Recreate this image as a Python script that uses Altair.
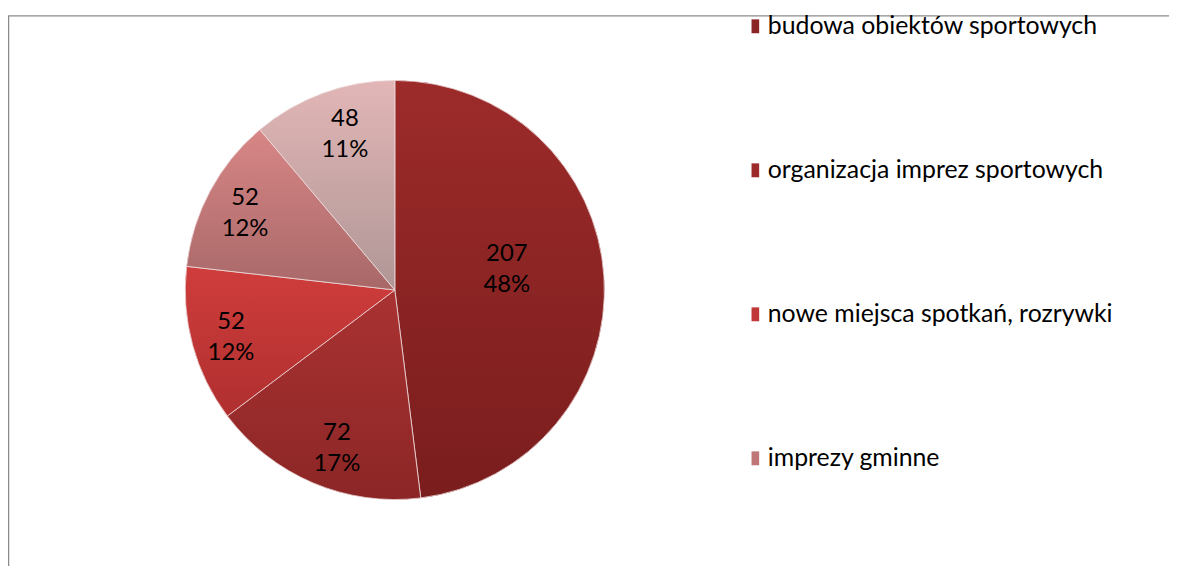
import altair as alt
import pandas as pd

categories = ["budowa obiektów sportowych", "organizacja imprez sportowych",
              "nowe miejsca spotkań, rozrywki", "imprezy gminne", "inne"]
values = [207, 72, 52, 52, 48]
legend_shown = categories[:4]

solid_colors = ["#8b2424", "#9c2a2a", "#c03838", "#c07676", "#cfa6a6"]
grad_top = ["#9c2b2a", "#aa3232", "#cf3d3c", "#d88686", "#e2b6b6"]
grad_bottom = ["#7a1d1d", "#8c2626", "#b02f2f", "#a86868", "#b09696"]

df = pd.DataFrame({"cat": categories, "value": values, "idx": list(range(len(values)))})

CX, CY, R = 389.5, 282, 211
W, H = 1169, 560


def grad(i):
    return {"gradient": "linear", "x1": 0, "y1": 0, "x2": 0, "y2": 1,
            "stops": [{"offset": 0, "color": grad_top[i]},
                      {"offset": 1, "color": grad_bottom[i]}]}


base = alt.Chart(df).transform_joinaggregate(total="sum(value)").transform_calculate(
    lab="[format(datum.value, 'd'), format(datum.value / datum.total, '.0%')]"
)

pie_legend = base.mark_arc(radius=R).encode(
    theta=alt.Theta("value:Q", stack=True),
    order=alt.Order("idx:Q"),
    x=alt.value(CX), y=alt.value(CY),
    color=alt.Color("cat:N", scale=alt.Scale(domain=categories, range=solid_colors),
                    legend=alt.Legend(
                        title=None, orient="none", legendX=740, legendY=4,
                        values=legend_shown, symbolType="M-0.55,-1H0.55V1H-0.55Z",
                        symbolSize=196, symbolStrokeWidth=0, labelFont="Lato",
                        labelFontSize=25, labelColor="#000000", labelOffset=0,
                        rowPadding=119, padding=0, labelLimit=500)),
)

conds = [{"test": f"datum.idx == {i}", "value": grad(i)} for i in range(len(values) - 1)]
pie_grad = base.mark_arc(radius=R, stroke="#f0dede", strokeWidth=0.8).encode(
    theta=alt.Theta("value:Q", stack=True),
    order=alt.Order("idx:Q"),
    x=alt.value(CX), y=alt.value(CY),
    fill=alt.FillValue(value=grad(len(values) - 1), condition=conds),
)

labels = base.mark_text(
    font="Lato", fontSize=24, color="#000000", lineHeight=31,
    align="center", baseline="middle",
    radius=alt.expr("datum.value > 150 ? 114 : 170"),
    dy=alt.expr("datum.value > 150 ? -29 : -12"),
    dx=alt.expr("datum.idx == 1 || datum.idx == 4 ? 8 : -1"),
).encode(
    theta=alt.Theta("value:Q", stack=True),
    order=alt.Order("idx:Q"),
    x=alt.value(CX), y=alt.value(CY),
    text=alt.Text("lab:N"),
)

one = alt.Data(values=[{"a": 1}])
top_rule = alt.Chart(one).mark_rule(color="#8a8a8a", strokeWidth=1.5).encode(
    x=alt.value(0), x2=alt.value(W + 20), y=alt.value(6))
left_rule = alt.Chart(one).mark_rule(color="#8a8a8a", strokeWidth=1.5).encode(
    x=alt.value(0.5), y=alt.value(6), y2=alt.value(H))

chart = alt.layer(pie_legend, pie_grad, labels, top_rule, left_rule).properties(
    width=W, height=H, padding=0, autosize="none", background="white"
).configure_view(strokeWidth=0)

chart.save("out.html", embed_options={"renderer": "svg", "actions": False})
